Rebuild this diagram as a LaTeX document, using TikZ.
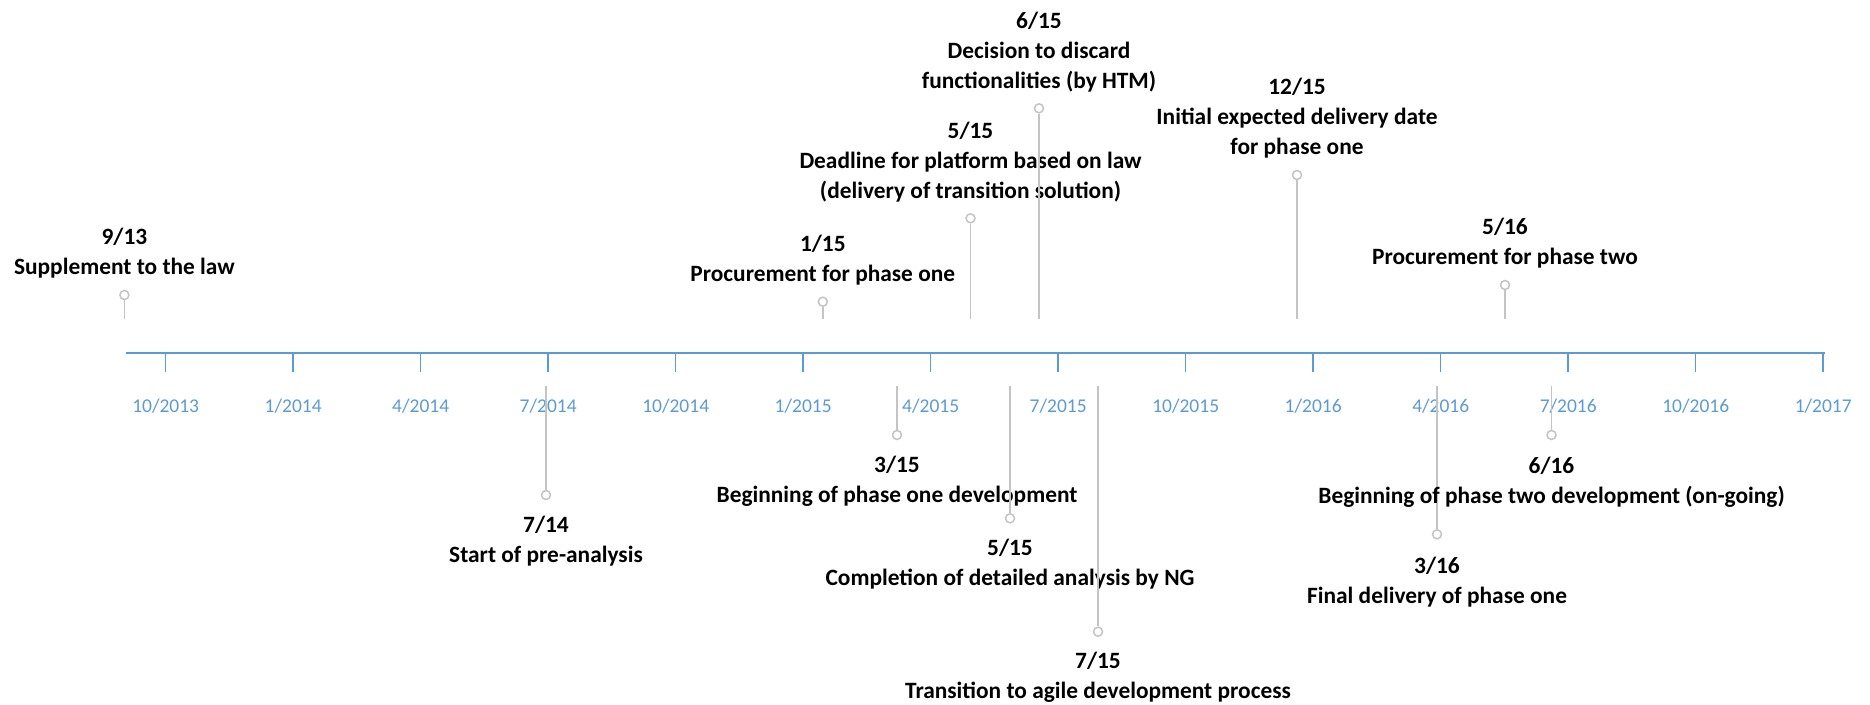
\documentclass[tikz,border=0pt]{standalone}
\usepackage{fontspec}
\setmainfont{Carlito}
\definecolor{axisblue}{HTML}{5B9BD5}
\definecolor{stemgrey}{HTML}{C4C4C4}
\newcommand{\lblfont}{\fontsize{9.35pt}{12pt}\selectfont\bfseries}
\newcommand{\tickfont}{\fontsize{7.8pt}{9pt}\selectfont}
\begin{document}
\begin{tikzpicture}[x=0.4pt,y=-0.4pt,
  axisline/.style={draw=axisblue,line width=0.8pt},
  tickline/.style={draw=axisblue,line width=0.6pt},
  ticklabel/.style={text=axisblue,font=\tickfont,inner sep=0pt,anchor=center},
  stemline/.style={draw=stemgrey,line width=0.6pt},
  evdot/.style={circle,draw=stemgrey,fill=white,line width=0.6pt,minimum size=3.6pt,inner sep=0pt},
  evlabel/.style={font=\lblfont,align=center,inner sep=0pt,anchor=north,text=black}]
\useasboundingbox (0,0) rectangle (1870,705);
% axis
\coordinate (axstart) at (125.5,352.5);
\coordinate (axend) at (1824.5,352.5);
% tick labels first (stems are drawn over them)
\foreach \lab [count=\i from 0] in {{10/2013},{1/2014},{4/2014},{7/2014},{10/2014},{1/2015},{4/2015},{7/2015},{10/2015},{1/2016},{4/2016},{7/2016},{10/2016},{1/2017}}{
  \coordinate (tk\i) at ({165.7+127.5*\i},352.5);
  \node[ticklabel] (tl\i) at ({165.7+127.5*\i},405.7) {\lab};
}
% events below the axis
\foreach \n/\x/\cy/\c/\d/\t in {
  e714/546/495/524/{7/14}/{Start of pre-analysis},
  e315/897/435/464/{3/15}/{Beginning of phase one development},
  e515b/1010/518.3/547.3/{5/15}/{Completion of detailed analysis by NG},
  e715/1098/631.7/660/{7/15}/{Transition to agile development process},
  e316/1437/534.3/565/{3/16}/{Final delivery of phase one},
  e616/1551.5/435/465/{6/16}/{Beginning of phase two development (on-going)}}{
  \coordinate (\n-base) at (\x,386);
  \node[evdot] (\n-dot) at (\x,\cy) {};
  \draw[stemline] (\n-base) -- (\n-dot.north);
  \node[evlabel] (\n-lbl) at (\x,\c-13.5) {\strut\d\\\t};
}
% events above the axis
\foreach \n/\x/\cy/\c/\d/\t in {
  e913/124.4/295/236/{9/13}/{Supplement to the law},
  e115/822.8/301.7/243.3/{1/15}/{Procurement for phase one},
  e515a/970.5/218.3/130.7/{5/15}/{Deadline for platform based on law\\(delivery of transition solution)},
  e615/1039/108.3/20.7/{6/15}/{Decision to discard\\functionalities (by HTM)},
  e1215/1297/175/87/{12/15}/{Initial expected delivery date\\for phase one},
  e516/1505/285/226.7/{5/16}/{Procurement for phase two}}{
  \coordinate (\n-base) at (\x,319.3);
  \node[evdot] (\n-dot) at (\x,\cy) {};
  \draw[stemline] (\n-base) -- (\n-dot.south);
  \node[evlabel] (\n-lbl) at (\x,\c-13.5) {\strut\d\\\t};
}
% axis and ticks
\draw[axisline] (axstart) -- (axend);
\foreach \i in {0,...,13}{
  \draw[tickline] (tk\i) -- ++(0,19.8);
}
\end{tikzpicture}
\end{document}
